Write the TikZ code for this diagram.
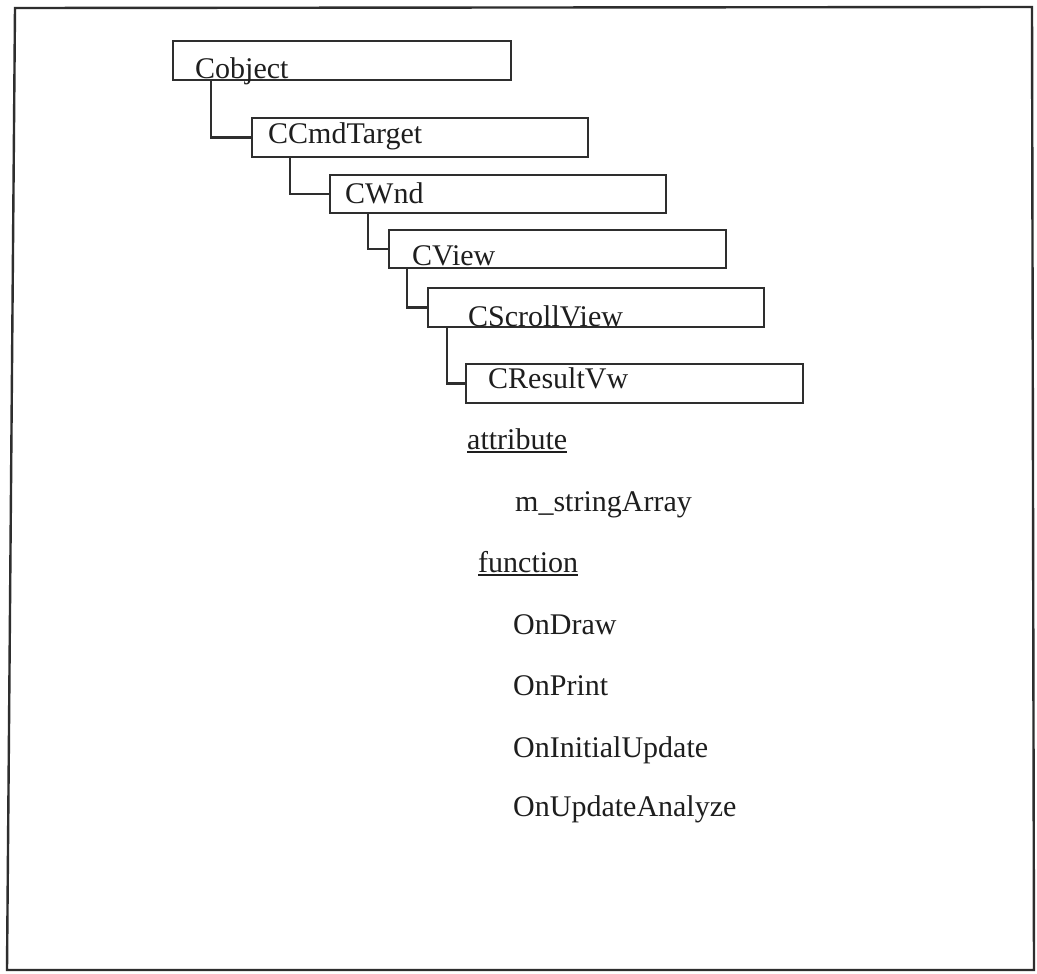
\documentclass[tikz,border=0pt]{standalone}
\usepackage{fontspec}
\setmainfont{Liberation Serif}
\definecolor{ink}{HTML}{1E1E1E}
\definecolor{rule}{HTML}{2E2E2E}
\tikzset{
  classbox/.style={draw=rule, line width=2.2pt, rectangle, inner sep=0pt, fill=none},
  classname/.style={anchor=base west, inner sep=0pt, text=ink, font=\fontsize{30}{36}\selectfont},
  member/.style={anchor=base west, inner sep=0pt, text=ink, font=\fontsize{30}{36}\selectfont},
  link/.style={draw=rule, line width=2.2pt},
  uline/.style={draw=ink, line width=1.5pt},
  frame/.style={draw=rule, line width=2.4pt}
}
\begin{document}
\begin{tikzpicture}[x=1pt, y=-1pt]
\useasboundingbox (0,0) rectangle (1037,974);
\fill[white] (0,0) rectangle (1037,974);

% outer frame
\draw[frame] (15,8) -- (1032,7) -- (1034,970) -- (7,970) -- cycle;

% class boxes of the inheritance chain
\node[classbox, minimum width=338pt, minimum height=39pt] (cobject) at (342,60.5) {};
\node[classbox, minimum width=336pt, minimum height=39pt] (ccmd)    at (420,137.5) {};
\node[classbox, minimum width=336pt, minimum height=38pt] (cwnd)    at (498,194) {};
\node[classbox, minimum width=337pt, minimum height=38pt] (cview)   at (557.5,249) {};
\node[classbox, minimum width=336pt, minimum height=39pt] (cscroll) at (596,307.5) {};
\node[classbox, minimum width=337pt, minimum height=39pt] (cresult) at (634.5,383.5) {};

% class names
\node[classname] (tcobject) at (195,78)  {Cobject};
\node[classname] (tccmd)    at (268,143) {CCmdTarget};
\node[classname] (tcwnd)    at (345,203) {CWnd};
\node[classname] (tcview)   at (412,265) {CView};
\node[classname] (tcscroll) at (468,326) {CScrollView};
\node[classname] (tcresult) at (488,388) {CResultVw};

% elbow connectors from each base class to its subclass
\draw[link] ([xshift=39pt]cobject.south west) |- (ccmd.west);
\draw[link] ([xshift=39pt]ccmd.south west)    |- (cwnd.west);
\draw[link] ([xshift=39pt]cwnd.south west)    |- (cview.west);
\draw[link] ([xshift=19pt]cview.south west)   |- (cscroll.west);
\draw[link] ([xshift=20pt]cscroll.south west) |- (cresult.west);

% members of CResultVw
\node[member] (attr)   at (467,449) {attribute};
\draw[uline] ([yshift=-3pt]attr.base west) -- ([yshift=-3pt]attr.base east);
\node[member] (sarr)   at (515,511) {m\_stringArray};
\node[member] (func)   at (478,572) {function};
\draw[uline] ([yshift=-3pt]func.base west) -- ([yshift=-3pt]func.base east);
\node[member] (fdraw)  at (513,634) {OnDraw};
\node[member] (fprint) at (513,695) {OnPrint};
\node[member] (finit)  at (513,757) {OnInitialUpdate};
\node[member] (fupd)   at (513,816) {OnUpdateAnalyze};
\end{tikzpicture}
\end{document}
